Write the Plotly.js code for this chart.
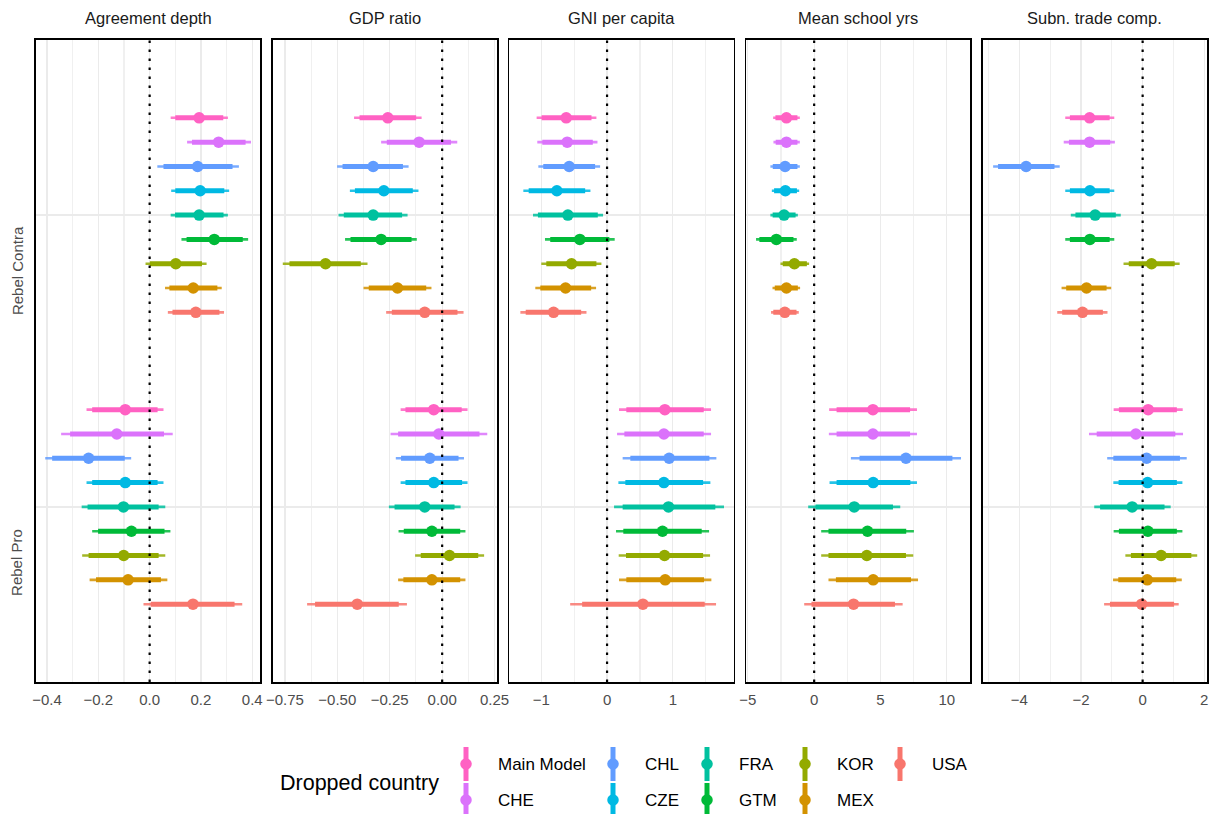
<!DOCTYPE html>
<html>
<head>
<meta charset="utf-8">
<script src="https://cdn.plot.ly/plotly-3.0.1.min.js"></script>
<style>
  html, body { margin: 0; padding: 0; background: #ffffff; }
  #chart { width: 1221px; height: 814px; }
</style>
</head>
<body>
<div id="chart"></div>
<script>
// Coefficient estimates with 90% (thick) and 95% (thin) intervals,
// re-estimated after dropping one country at a time.
const countries = ['Main Model', 'CHE', 'CHL', 'CZE', 'FRA', 'GTM', 'KOR', 'MEX', 'USA'];
const colors = ['#FF61C3', '#DB72FB', '#619CFF', '#00B9E3', '#00C19F', '#00BA38', '#93AA00', '#D39200', '#F8766D'];
const groups = ['Rebel Contra', 'Rebel Pro'];
const panelTitles = ['Agreement depth', 'GDP ratio', 'GNI per capita', 'Mean school yrs', 'Subn. trade comp.'];

// Each array: first 9 values = Rebel Contra, next 9 = Rebel Pro (country order as above)
const agreeEst  = [0.193, 0.269, 0.187, 0.197, 0.193, 0.252, 0.102, 0.170, 0.180,
                   -0.095, -0.128, -0.238, -0.095, -0.102, -0.071, -0.101, -0.084, 0.169];
const agreeLo95 = [0.082, 0.146, 0.030, 0.084, 0.082, 0.124, -0.016, 0.060, 0.071,
                   -0.246, -0.345, -0.407, -0.246, -0.265, -0.224, -0.263, -0.234, -0.024];
const agreeHi95 = [0.305, 0.395, 0.348, 0.310, 0.305, 0.384, 0.222, 0.281, 0.290,
                   0.054, 0.090, -0.072, 0.054, 0.061, 0.081, 0.061, 0.069, 0.361];
const agreeLo90 = [0.100, 0.165, 0.054, 0.100, 0.099, 0.144, 0.001, 0.077, 0.089,
                   -0.224, -0.310, -0.380, -0.224, -0.242, -0.201, -0.238, -0.209, 0.004];
const agreeHi90 = [0.287, 0.374, 0.323, 0.291, 0.288, 0.363, 0.204, 0.264, 0.272,
                   0.031, 0.056, -0.097, 0.031, 0.035, 0.058, 0.035, 0.044, 0.331];

const gdpEst  = [-0.259, -0.110, -0.329, -0.278, -0.329, -0.291, -0.556, -0.213, -0.083,
                 -0.040, -0.016, -0.059, -0.040, -0.083, -0.049, 0.035, -0.049, -0.405];
const gdpLo95 = [-0.420, -0.291, -0.501, -0.440, -0.494, -0.463, -0.760, -0.375, -0.267,
                 -0.198, -0.246, -0.221, -0.198, -0.254, -0.208, -0.129, -0.210, -0.644];
const gdpHi95 = [-0.098, 0.072, -0.160, -0.113, -0.165, -0.121, -0.356, -0.051, 0.102,
                 0.121, 0.215, 0.104, 0.121, 0.088, 0.111, 0.200, 0.111, -0.168];
const gdpLo90 = [-0.394, -0.264, -0.475, -0.416, -0.469, -0.437, -0.728, -0.350, -0.240,
                 -0.175, -0.210, -0.196, -0.175, -0.227, -0.183, -0.102, -0.185, -0.606];
const gdpHi90 = [-0.124, 0.042, -0.187, -0.140, -0.191, -0.146, -0.388, -0.076, 0.073,
                 0.093, 0.178, 0.078, 0.095, 0.059, 0.086, 0.172, 0.086, -0.207];

const gniEst  = [-0.621, -0.606, -0.576, -0.763, -0.596, -0.414, -0.540, -0.631, -0.813,
                 0.879, 0.864, 0.944, 0.864, 0.934, 0.843, 0.874, 0.884, 0.545];
const gniLo95 = [-1.071, -1.061, -1.045, -1.273, -1.126, -0.944, -1.000, -1.091, -1.318,
                 0.182, 0.152, 0.237, 0.172, 0.106, 0.136, 0.177, 0.182, -0.561];
const gniHi95 = [-0.162, -0.146, -0.106, -0.253, -0.061, 0.116, -0.086, -0.167, -0.313,
                 1.581, 1.581, 1.662, 1.571, 1.778, 1.551, 1.566, 1.586, 1.657];
const gniLo90 = [-0.995, -0.985, -0.970, -1.192, -1.051, -0.864, -0.924, -1.015, -1.237,
                 0.293, 0.263, 0.354, 0.278, 0.237, 0.247, 0.288, 0.293, -0.379];
const gniHi90 = [-0.237, -0.217, -0.182, -0.333, -0.141, 0.035, -0.162, -0.242, -0.394,
                 1.470, 1.470, 1.556, 1.460, 1.646, 1.439, 1.460, 1.475, 1.485];

const schoolEst  = [-2.09, -2.09, -2.19, -2.17, -2.27, -2.85, -1.49, -2.09, -2.21,
                    4.43, 4.43, 6.92, 4.45, 3.02, 4.02, 3.97, 4.45, 2.97];
const schoolLo95 = [-3.09, -3.07, -3.30, -3.19, -3.30, -4.38, -2.54, -3.14, -3.25,
                    1.13, 1.11, 2.77, 1.16, -0.45, 0.53, 0.53, 1.08, -0.75];
const schoolHi95 = [-1.08, -1.08, -1.08, -1.13, -1.23, -1.31, -0.38, -1.06, -1.16,
                    7.75, 7.75, 11.07, 7.75, 6.49, 7.52, 7.47, 7.83, 6.67];
const schoolLo90 = [-2.92, -2.90, -3.12, -3.02, -3.13, -4.13, -2.37, -2.97, -3.08,
                    1.69, 1.69, 3.42, 1.69, 0.10, 1.08, 1.08, 1.64, -0.20];
const schoolHi90 = [-1.26, -1.26, -1.26, -1.30, -1.40, -1.56, -0.55, -1.23, -1.33,
                    7.23, 7.23, 10.42, 7.25, 5.94, 6.94, 6.92, 7.30, 6.09];

const tradeEst  = [-1.72, -1.72, -3.78, -1.71, -1.54, -1.71, 0.29, -1.82, -1.95,
                   0.18, -0.22, 0.13, 0.16, -0.34, 0.17, 0.60, 0.15, -0.03];
const tradeLo95 = [-2.51, -2.56, -4.85, -2.51, -2.33, -2.51, -0.62, -2.63, -2.77,
                   -0.94, -1.74, -1.15, -0.95, -1.57, -0.94, -0.56, -0.96, -1.25];
const tradeHi95 = [-0.92, -0.90, -2.69, -0.92, -0.71, -0.92, 1.20, -1.02, -1.14,
                   1.30, 1.31, 1.43, 1.29, 0.91, 1.29, 1.77, 1.27, 1.17];
const tradeLo90 = [-2.36, -2.39, -4.69, -2.36, -2.18, -2.36, -0.45, -2.48, -2.61,
                   -0.77, -1.49, -0.95, -0.78, -1.38, -0.77, -0.38, -0.79, -1.06];
const tradeHi90 = [-1.07, -1.05, -2.86, -1.07, -0.87, -1.07, 1.04, -1.17, -1.29,
                   1.11, 1.06, 1.21, 1.11, 0.71, 1.11, 1.58, 1.09, 1.02];

// Tick labels per panel
const agreeTicks = [-0.4, -0.2, 0.0, 0.2, 0.4];
const agreeTickText = ['\u22120.4', '\u22120.2', '0.0', '0.2', '0.4'];
const gdpTicks = [-0.75, -0.5, -0.25, 0, 0.25];
const gdpTickText = ['\u22120.75', '\u22120.50', '\u22120.25', '0.00', '0.25'];
const gniTicks = [-1, 0, 1];
const gniTickText = ['\u22121', '0', '1'];
const schoolTicks = [-5, 0, 5, 10];
const schoolTickText = ['\u22125', '0', '5', '10'];
const tradeTicks = [-4, -2, 0, 2];
const tradeTickText = ['\u22124', '\u22122', '0', '2'];

const panels = [
  { est: agreeEst, lo95: agreeLo95, hi95: agreeHi95, lo90: agreeLo90, hi90: agreeHi90,
    ticks: agreeTicks, tickText: agreeTickText, minor: [-0.3, -0.1, 0.1, 0.3], range: [-0.443, 0.431] },
  { est: gdpEst, lo95: gdpLo95, hi95: gdpHi95, lo90: gdpLo90, hi90: gdpHi90,
    ticks: gdpTicks, tickText: gdpTickText, minor: [-0.625, -0.375, -0.125, 0.125], range: [-0.808, 0.261] },
  { est: gniEst, lo95: gniLo95, hi95: gniHi95, lo90: gniLo90, hi90: gniHi90,
    ticks: gniTicks, tickText: gniTickText, minor: [-0.5, 0.5, 1.5], range: [-1.485, 1.924] },
  { est: schoolEst, lo95: schoolLo95, hi95: schoolHi95, lo90: schoolLo90, hi90: schoolHi90,
    ticks: schoolTicks, tickText: schoolTickText, minor: [-2.5, 2.5, 7.5], range: [-5.13, 11.77] },
  { est: tradeEst, lo95: tradeLo95, hi95: tradeHi95, lo90: tradeLo90, hi90: tradeHi90,
    ticks: tradeTicks, tickText: tradeTickText, minor: [-5, -3, -1, 1], range: [-5.185, 2.088] }
];

// Discrete y positions: Rebel Contra above Rebel Pro, dodged by country
const groupPos = { 'Rebel Contra': 2, 'Rebel Pro': 1 };
const dodgeWidth = 0.75;
const dodgeStep = dodgeWidth / countries.length;
const mid = (countries.length - 1) / 2;

const W = 1221, H = 814;
const margin = { l: 36, r: 14, t: 40, b: 0 };
const plotW = W - margin.l - margin.r;
const plotH = H - margin.t - margin.b;
const panelBottomPx = 682;
const gapPx = 12.5;
const panelWPx = (plotW - gapPx * (panels.length - 1)) / panels.length;

const font = 'Liberation Sans, Arial, Helvetica, sans-serif';
const thinWidth = 2.6;
const thickWidth = 5;
const pointSize = 11.5;

const traces = [];
const layout = {
  width: W, height: H,
  margin: margin,
  paper_bgcolor: '#ffffff',
  plot_bgcolor: '#ffffff',
  showlegend: false,
  font: { family: font, color: '#4d4d4d' },
  shapes: [],
  annotations: []
};

const yDomain = [(H - panelBottomPx) / plotH, 1];

panels.forEach((p, k) => {
  const ax = k + 1;
  const xa = 'x' + ax, ya = 'y' + ax;
  const x0 = (k * (panelWPx + gapPx)) / plotW;
  const x1 = (k * (panelWPx + gapPx) + panelWPx) / plotW;

  layout['xaxis' + ax] = {
    domain: [x0, x1], range: p.range, anchor: ya,
    tickmode: 'array', tickvals: p.ticks, ticktext: p.tickText,
    tickfont: { size: 15, color: '#4d4d4d', family: font },
    ticks: 'outside', ticklen: 3, tickcolor: 'rgba(0,0,0,0)',
    showgrid: true, gridcolor: '#ebebeb', gridwidth: 1.3,
    minor: { tickmode: 'array', tickvals: p.minor, showgrid: true, gridcolor: '#f0f0f0', gridwidth: 1.1, ticks: '' },
    zeroline: false, showline: true, mirror: true, linecolor: '#000000', linewidth: 1.6,
    fixedrange: true
  };
  layout['yaxis' + ax] = {
    domain: yDomain, range: [0.4, 2.6], anchor: xa,
    tickmode: 'array', tickvals: groups.map(g => groupPos[g]),
    showticklabels: false,
    ticks: '', showgrid: true, gridcolor: '#ebebeb', gridwidth: 2,
    zeroline: false, showline: true, mirror: true, linecolor: '#000000', linewidth: 1.6,
    fixedrange: true
  };

  // Panel strip title
  layout.annotations.push({
    text: panelTitles[k], xref: xa + ' domain', x: 0.5, yref: 'paper', y: (H - 18) / plotH,
    xanchor: 'center', yanchor: 'middle', showarrow: false,
    font: { size: 16.5, color: '#1a1a1a', family: font }
  });

  // Reference line at zero
  layout.shapes.push({
    type: 'line', xref: xa, yref: ya + ' domain', x0: 0, x1: 0, y0: 0, y1: 1,
    line: { color: '#000000', width: 2.2, dash: '2.5px,6.5px' }, layer: 'above'
  });

  countries.forEach((c, i) => {
    const thinX = [], thinY = [], thickX = [], thickY = [], ptX = [], ptY = [];
    groups.forEach((g, gi) => {
      const idx = gi * countries.length + i;
      const y = groupPos[g] + (mid - i) * dodgeStep;
      thinX.push(p.lo95[idx], p.hi95[idx], null); thinY.push(y, y, null);
      thickX.push(p.lo90[idx], p.hi90[idx], null); thickY.push(y, y, null);
      ptX.push(p.est[idx]); ptY.push(y);
    });
    traces.push({ type: 'scatter', mode: 'lines', x: thinX, y: thinY, xaxis: xa, yaxis: ya,
      line: { color: colors[i], width: thinWidth }, opacity: 0.85, hoverinfo: 'skip', name: c });
    traces.push({ type: 'scatter', mode: 'lines', x: thickX, y: thickY, xaxis: xa, yaxis: ya,
      line: { color: colors[i], width: thickWidth }, hoverinfo: 'skip', name: c });
    traces.push({ type: 'scatter', mode: 'markers', x: ptX, y: ptY, xaxis: xa, yaxis: ya,
      marker: { color: colors[i], size: pointSize, line: { width: 0 } }, name: c,
      hovertemplate: c + ': %{x}<extra></extra>' });
  });
});

// Group labels on the left of the first panel, rotated
groups.forEach(g => {
  layout.annotations.push({
    text: g, xref: 'paper', x: -19 / plotW, xanchor: 'center',
    yref: 'y1', y: groupPos[g], yanchor: 'middle', yshift: -56,
    textangle: -90, showarrow: false,
    font: { size: 15, color: '#4d4d4d', family: font }
  });
});

// Legend drawn in its own pixel-scaled axis pair beneath the panels
const legendTop = 728;
layout.xaxis6 = { domain: [0, 1], range: [margin.l, W - margin.r], anchor: 'y6',
  visible: false, fixedrange: true };
layout.yaxis6 = { domain: [0, (H - legendTop) / plotH], range: [H, legendTop], anchor: 'x6',
  visible: false, fixedrange: true };

const legendColX = [466, 613, 707, 805, 900];
const legendRowY = [764, 800];
const legendKeyHalf = 17;
const legendTextGap = 30;

layout.annotations.push({
  text: 'Dropped country', xref: 'x6', yref: 'y6', x: 278, y: 783,
  xanchor: 'left', yanchor: 'middle', showarrow: false,
  font: { size: 21.5, color: '#000000', family: font }
});

countries.forEach((c, i) => {
  const col = Math.floor(i / 2), row = i % 2;
  const gx = legendColX[col], gy = legendRowY[row];
  traces.push({ type: 'scatter', mode: 'lines', x: [gx, gx], y: [gy - legendKeyHalf, gy + legendKeyHalf],
    xaxis: 'x6', yaxis: 'y6', line: { color: colors[i], width: thickWidth }, hoverinfo: 'skip',
    cliponaxis: false });
  traces.push({ type: 'scatter', mode: 'markers', x: [gx], y: [gy], xaxis: 'x6', yaxis: 'y6',
    marker: { color: colors[i], size: pointSize }, hoverinfo: 'skip', cliponaxis: false });
  layout.annotations.push({
    text: c, xref: 'x6', yref: 'y6', x: gx + legendTextGap, y: gy,
    xanchor: 'left', yanchor: 'middle', showarrow: false,
    font: { size: 17, color: '#000000', family: font }
  });
});

Plotly.newPlot('chart', traces, layout, { displayModeBar: false, staticPlot: true });
</script>
</body>
</html>
